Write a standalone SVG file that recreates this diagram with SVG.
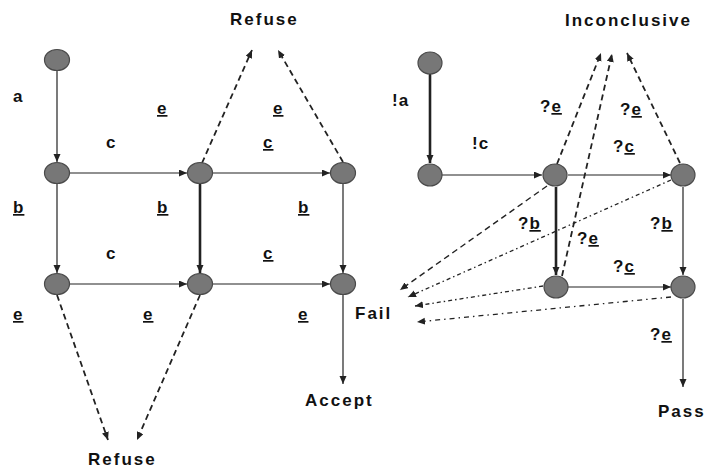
<svg xmlns="http://www.w3.org/2000/svg" width="707" height="470" viewBox="0 0 707 470">
<style>
.n{fill:#777;stroke:#4a4a4a;stroke-width:1.2}
.e{fill:none;stroke:#222;stroke-width:1.2}
.t{stroke-width:2.6}
.d{stroke-width:1.8;stroke-dasharray:6,4}
.dd{stroke-width:1.3;stroke-dasharray:4,3,1.5,3}
.ds{stroke-width:1.3;stroke-dasharray:5,4,1.5,4}
.lb{font-family:"Liberation Sans",Arial,sans-serif;font-weight:bold;font-size:17px;fill:#111;letter-spacing:1px}
.big{font-family:"Liberation Sans",Arial,sans-serif;font-weight:bold;font-size:17px;fill:#111;letter-spacing:2px}
.u{text-decoration:underline}
</style>
<defs>
<marker id="ah" markerUnits="userSpaceOnUse" markerWidth="9" markerHeight="8" refX="8" refY="3.5" orient="auto">
<path d="M0,0 L8,3.5 L0,7 z" fill="#222"/>
</marker>
</defs>
<g id="connectors">
<path class="e" d="M57,71 L57,162" marker-end="url(#ah)"/>
<path class="e" d="M70,173 L187,173" marker-end="url(#ah)"/>
<path class="e" d="M213,173 L330,173" marker-end="url(#ah)"/>
<path class="e" d="M57,184 L57,273" marker-end="url(#ah)"/>
<path class="e t" d="M200,184 L200,273" marker-end="url(#ah)"/>
<path class="e" d="M343,184 L343,273" marker-end="url(#ah)"/>
<path class="e" d="M70,284 L187,284" marker-end="url(#ah)"/>
<path class="e" d="M213,284 L330,284" marker-end="url(#ah)"/>
<path class="e" d="M343,295 L343,384" marker-end="url(#ah)"/>
<path class="e d" d="M202,163 L252,50" marker-end="url(#ah)"/>
<path class="e d" d="M343,162 L278,50" marker-end="url(#ah)"/>
<path class="e d" d="M57,295 L108,440" marker-end="url(#ah)"/>
<path class="e d" d="M200,295 L137,440" marker-end="url(#ah)"/>
<path class="e t" d="M430,74 L430,163" marker-end="url(#ah)"/>
<path class="e" d="M442,175 L542,175" marker-end="url(#ah)"/>
<path class="e" d="M568,175 L671,175" marker-end="url(#ah)"/>
<path class="e t" d="M556,187 L556,275" marker-end="url(#ah)"/>
<path class="e" d="M683,187 L683,275" marker-end="url(#ah)"/>
<path class="e" d="M568,287 L671,287" marker-end="url(#ah)"/>
<path class="e" d="M683,299 L683,387" marker-end="url(#ah)"/>
<path class="e d" d="M557,164 L601,53" marker-end="url(#ah)"/>
<path class="e d" d="M562,276 L612,54" marker-end="url(#ah)"/>
<path class="e d" d="M680,163 L627,53" marker-end="url(#ah)"/>
<path class="e d" style="stroke-width:1.4" d="M547,186 L400,290" marker-end="url(#ah)"/>
<path class="e dd" d="M671,180 L408,297" marker-end="url(#ah)"/>
<path class="e dd" d="M543,286 L415,306" marker-end="url(#ah)"/>
<path class="e ds" d="M671,297 L417,322" marker-end="url(#ah)"/>
</g>
<g id="L0"><ellipse class="n" cx="57" cy="60" rx="12.5" ry="10.5"/></g>
<g id="L1"><ellipse class="n" cx="57" cy="173" rx="12.5" ry="10.5"/></g>
<g id="L2"><ellipse class="n" cx="200" cy="173" rx="12.5" ry="10.5"/></g>
<g id="L3"><ellipse class="n" cx="343" cy="173" rx="12.5" ry="10.5"/></g>
<g id="L4"><ellipse class="n" cx="57" cy="284" rx="12.5" ry="10.5"/></g>
<g id="L5"><ellipse class="n" cx="200" cy="284" rx="12.5" ry="10.5"/></g>
<g id="L6"><ellipse class="n" cx="343" cy="284" rx="12.5" ry="10.5"/></g>
<g id="R0"><ellipse class="n" cx="430" cy="63" rx="12" ry="11"/></g>
<g id="R1"><ellipse class="n" cx="430" cy="175" rx="12" ry="11"/></g>
<g id="R2"><ellipse class="n" cx="555" cy="175" rx="12" ry="11"/></g>
<g id="R3"><ellipse class="n" cx="683" cy="175" rx="12" ry="11"/></g>
<g id="R4"><ellipse class="n" cx="556" cy="287" rx="12" ry="11"/></g>
<g id="R5"><ellipse class="n" cx="683" cy="287" rx="12" ry="11"/></g>
<g id="labels">
<text class="big" x="230" y="25">Refuse</text>
<text class="big" x="88" y="465">Refuse</text>
<text class="big" x="355" y="319">Fail</text>
<text class="big" x="305" y="406">Accept</text>
<text class="big" x="565" y="26">Inconclusive</text>
<text class="big" x="658" y="417">Pass</text>
<text class="lb" x="13" y="102">a</text>
<text class="lb" x="106" y="148">c</text>
<text class="lb u" x="157" y="114">e</text>
<text class="lb u" x="273" y="114">e</text>
<text class="lb u" x="263" y="148">c</text>
<text class="lb u" x="13" y="213">b</text>
<text class="lb u" x="157" y="213">b</text>
<text class="lb u" x="298" y="213">b</text>
<text class="lb" x="106" y="259">c</text>
<text class="lb u" x="263" y="259">c</text>
<text class="lb u" x="13" y="320">e</text>
<text class="lb u" x="143" y="320">e</text>
<text class="lb u" x="298" y="320">e</text>
<text class="lb" x="392" y="106">!a</text>
<text class="lb" x="472" y="149">!c</text>
<text class="lb" x="540" y="112">?<tspan class="u">e</tspan></text>
<text class="lb" x="620" y="115">?<tspan class="u">e</tspan></text>
<text class="lb" x="613" y="152">?<tspan class="u">c</tspan></text>
<text class="lb" x="518" y="229">?<tspan class="u">b</tspan></text>
<text class="lb" x="650" y="229">?<tspan class="u">b</tspan></text>
<text class="lb" x="577" y="244">?<tspan class="u">e</tspan></text>
<text class="lb" x="613" y="272">?<tspan class="u">c</tspan></text>
<text class="lb" x="650" y="340">?<tspan class="u">e</tspan></text>
</g>
</svg>
